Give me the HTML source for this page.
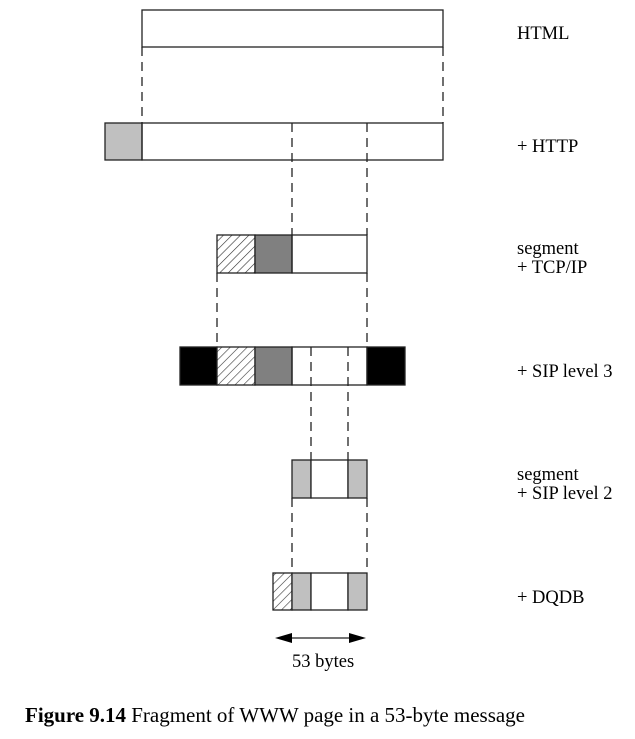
<!DOCTYPE html>
<html><head><meta charset="utf-8"><style>
html,body{margin:0;padding:0;background:#fff;}
svg{display:block;}
text{font-family:"Liberation Serif",serif;font-size:18.5px;fill:#000;}
</style></head><body>
<svg width="635" height="739" viewBox="0 0 635 739" xmlns="http://www.w3.org/2000/svg">
<defs>
<pattern id="h" width="6" height="6" patternUnits="userSpaceOnUse" patternTransform="rotate(45)">
<rect width="6" height="6" fill="#fff"/><line x1="0" y1="0" x2="0" y2="6" stroke="#333" stroke-width="1.2"/>
</pattern>
</defs>
<g stroke="#222" stroke-width="1.3" stroke-dasharray="9,6" fill="none">
<line x1="142" y1="47" x2="142" y2="123"/>
<line x1="443" y1="47" x2="443" y2="123"/>
<line x1="292" y1="123" x2="292" y2="235"/>
<line x1="367" y1="123" x2="367" y2="235"/>
<line x1="217" y1="273" x2="217" y2="347"/>
<line x1="367" y1="273" x2="367" y2="347"/>
<line x1="311" y1="347" x2="311" y2="460"/>
<line x1="348" y1="347" x2="348" y2="460"/>
<line x1="292" y1="498" x2="292" y2="573"/>
<line x1="367" y1="498" x2="367" y2="573"/>
</g>
<g stroke="#222" stroke-width="1.3">
<rect x="142" y="10" width="301" height="37" fill="none"/>
<rect x="105" y="123" width="37" height="37" fill="#c0c0c0"/>
<rect x="142" y="123" width="301" height="37" fill="none"/>
<rect x="217" y="235" width="38" height="38" fill="url(#h)"/>
<rect x="255" y="235" width="37" height="38" fill="#808080"/>
<rect x="292" y="235" width="75" height="38" fill="none"/>
<rect x="180" y="347" width="37" height="38" fill="#000"/>
<rect x="217" y="347" width="38" height="38" fill="url(#h)"/>
<rect x="255" y="347" width="37" height="38" fill="#808080"/>
<rect x="292" y="347" width="75" height="38" fill="none"/>
<rect x="367" y="347" width="38" height="38" fill="#000"/>
<rect x="292" y="460" width="19" height="38" fill="#c0c0c0"/>
<rect x="311" y="460" width="37" height="38" fill="#fff"/>
<rect x="348" y="460" width="19" height="38" fill="#c0c0c0"/>
<rect x="273" y="573" width="19" height="37" fill="url(#h)"/>
<rect x="292" y="573" width="19" height="37" fill="#c0c0c0"/>
<rect x="311" y="573" width="37" height="37" fill="#fff"/>
<rect x="348" y="573" width="19" height="37" fill="#c0c0c0"/>
<line x1="285" y1="638" x2="356" y2="638"/>
</g>
<polygon points="275,638 292,633 292,643" fill="#000"/>
<polygon points="366,638 349,633 349,643" fill="#000"/>
<g>
<text x="517" y="39">HTML</text>
<text x="517" y="152">+ HTTP</text>
<text x="517" y="254">segment</text>
<text x="517" y="273">+ TCP/IP</text>
<text x="517" y="377">+ SIP level 3</text>
<text x="517" y="480">segment</text>
<text x="517" y="499">+ SIP level 2</text>
<text x="517" y="603">+ DQDB</text>
<text x="292" y="667">53 bytes</text>
<text x="25" y="722" style="font-size:21px" textLength="500" lengthAdjust="spacing"><tspan font-weight="bold">Figure 9.14</tspan>  Fragment of WWW page in a 53-byte message</text>
</g>
</svg>
</body></html>
